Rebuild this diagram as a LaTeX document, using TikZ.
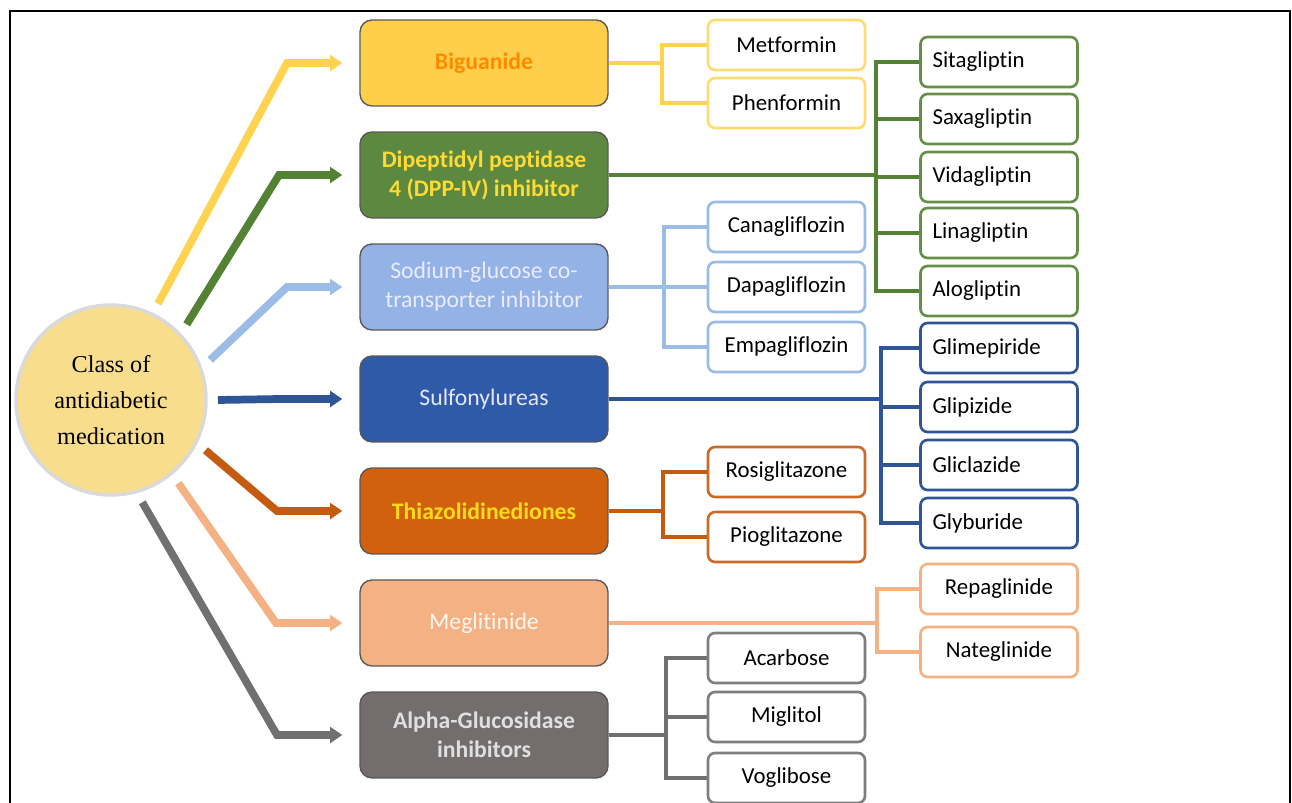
\documentclass[tikz,border=0pt]{standalone}
\usepackage{fontspec}
\setmainfont[Ligatures=NoCommon]{Carlito}
\newfontfamily\timesfont{Liberation Serif}
\usetikzlibrary{arrows.meta}

\definecolor{cyel}{HTML}{FFD34F}
\definecolor{cgrn}{HTML}{548235}
\definecolor{clbl}{HTML}{9BBCE6}
\definecolor{cblu}{HTML}{2F5597}
\definecolor{corg}{HTML}{C55A11}
\definecolor{clor}{HTML}{F4B183}
\definecolor{cgry}{HTML}{707070}
\definecolor{ccirc}{HTML}{F8DE8C}
\definecolor{csulf}{HTML}{2E5AA8}

\begin{document}
\begin{tikzpicture}[x=0.02cm, y=-0.02cm,
    cat/.style={draw=black!65, line width=0.8pt, rounded corners=0.24cm,
        minimum width=4.96cm, minimum height=1.72cm, align=center,
        font=\fontsize{13.5}{16.5}\selectfont},
    catb/.style={cat, font=\bfseries\fontsize{13.5}{16.5}\selectfont},
    leaf/.style={draw=#1, fill=white, line width=1.5pt, rounded corners=0.14cm,
        minimum width=3.14cm, minimum height=1cm,
        font=\fontsize{13}{15}\selectfont},
    leafl/.style={leaf=#1, text width=2.66cm, inner xsep=0.24cm, align=left},
    arr/.style={line width=4.4pt, -{Triangle[width=9pt,length=7pt]},
        shorten >=0.34cm},
    link/.style={line width=2pt}]
    \useasboundingbox (0,0) rectangle (1292,803);
    \draw[line width=1.5pt] (10,803) -- (10,11) -- (1290,11) -- (1290,803);

    % centre
    \node[circle, fill=ccirc, draw=white!85!black, line width=2pt,
        minimum size=3.8cm, align=center,
        font=\timesfont\fontsize{13.8}{20.5}\selectfont]
        (circ) at (111,400) {Class of\\antidiabetic\\medication};

    % classes
    \node[catb, fill=cyel!95!orange, text=orange!80!yellow!90!red] (bg) at (484,63) {Biguanide};
    \node[catb, fill=cgrn!95!white, text=yellow!70!orange!80!white] (dpp) at (484,175)
        {Dipeptidyl peptidase\\4 (DPP-IV) inhibitor};
    \node[cat, fill=clbl!95!blue, text=white!92!blue] (sglt) at (484,287)
        {Sodium-glucose co-\\transporter inhibitor};
    \node[cat, fill=csulf, text=white!90!blue] (sulf) at (484,399) {Sulfonylureas};
    \node[catb, fill=corg!80!orange, text=yellow!75!orange!90!white] (tzd) at (484,511)
        {Thiazolidinediones};
    \node[cat, fill=clor, text=white!94!orange] (megl) at (484,623) {Meglitinide};
    \node[catb, fill=cgry!97!red, text=white!88!black] (agi) at (484,735)
        {Alpha-Glucosidase\\inhibitors};

    % arrows from the centre
    \foreach \ang/\bx/\n/\c in {-64/287/bg/cyel, -45/279/dpp/cgrn, -22/287/sglt/clbl,
        0/280/sulf/cblu, 28/277/tzd/corg, 51/276/megl/clor, 73/277/agi/cgry}{
        \draw[arr, \c] (circ.center) ++(\ang:107) -- (\n.west -| \bx,0) -- (\n.west);
    }

    % drugs
    \foreach \n/\y/\t in {met/45/Metformin, phen/103/Phenformin}
        \node[leaf=cyel!80!white] (\n) at (786.5,\y) {\t};
    \foreach \n/\y/\t in {cana/227/Canagliflozin, dapa/287/Dapagliflozin, empa/347/Empagliflozin}
        \node[leaf=clbl] (\n) at (786.5,\y) {\t};
    \foreach \n/\y/\t in {rosi/472/Rosiglitazone, piog/537/Pioglitazone}
        \node[leaf=corg!90!white] (\n) at (786.5,\y) {\t};
    \foreach \n/\y/\t in {acar/658/Acarbose, migl/717/Miglitol, vogl/778/Voglibose}
        \node[leaf=cgry!90!white] (\n) at (786.5,\y) {\t};
    \foreach \n/\y/\t in {sita/62/Sitagliptin, saxa/119/Saxagliptin, vida/177/Vidagliptin,
        lina/233/Linagliptin, alog/291/Alogliptin}
        \node[leafl=cgrn!90!white] (\n) at (999,\y) {\t};
    \foreach \n/\y/\t in {glim/348/Glimepiride, glip/407/Glipizide, glic/465/Gliclazide,
        glyb/523/Glyburide}
        \node[leafl=cblu] (\n) at (999,\y) {\t};
    \foreach \n/\y/\t in {repa/589/Repaglinide, nate/652/Nateglinide}
        \node[leaf=clor] (\n) at (999,\y) {\t};

    % links
    \foreach \n in {met,phen}
        \draw[link, cyel] (bg.east) -- (bg.east -| 662,0) |- (\n.west);
    \foreach \n in {sita,saxa,vida,lina,alog}
        \draw[link, cgrn] (dpp.east) -- (dpp.east -| 876,0) |- (\n.west);
    \foreach \n in {cana,dapa,empa}
        \draw[link, clbl] (sglt.east) -- (sglt.east -| 664,0) |- (\n.west);
    \foreach \n in {glim,glip,glic,glyb}
        \draw[link, cblu] (sulf.east) -- (sulf.east -| 881,0) |- (\n.west);
    \foreach \n in {rosi,piog}
        \draw[link, corg] (tzd.east) -- (tzd.east -| 663,0) |- (\n.west);
    \foreach \n in {repa,nate}
        \draw[link, clor] (megl.east) -- (megl.east -| 877,0) |- (\n.west);
    \foreach \n in {acar,migl,vogl}
        \draw[link, cgry] (agi.east) -- (agi.east -| 666,0) |- (\n.west);
\end{tikzpicture}
\end{document}
